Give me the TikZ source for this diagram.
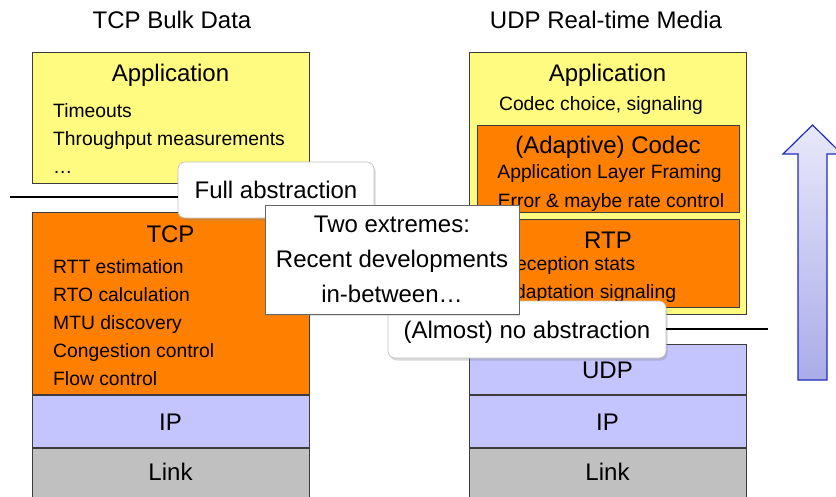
\documentclass[tikz,border=0pt]{standalone}
\usepackage{fontspec}
\setmainfont{Liberation Sans}
\usetikzlibrary{positioning,shadows}

\definecolor{appyellow}{RGB}{255,250,128}
\definecolor{tcporange}{RGB}{255,128,0}
\definecolor{ipblue}{RGB}{196,196,255}
\definecolor{linkgray}{RGB}{191,192,191}
\definecolor{edgegray}{RGB}{60,60,60}
\definecolor{arrowtop}{RGB}{232,232,250}
\definecolor{arrowbottom}{RGB}{170,172,232}
\definecolor{arrowedge}{RGB}{30,45,190}

\begin{document}
\begin{tikzpicture}[
  x=1pt, y=-1pt,
  layer/.style={rectangle, draw=edgegray, line width=0.8pt, inner sep=0pt, anchor=north west},
  big/.style={font=\fontsize{24}{28}\selectfont, inner sep=0pt, anchor=base},
  item/.style={font=\fontsize{19.3}{22}\selectfont, inner sep=0pt, anchor=base west},
  callout/.style={rectangle, rounded corners=7pt, draw=black!25, fill=white, line width=0.6pt, font=\fontsize{24}{28}\selectfont, text height=17pt, text depth=0pt, drop shadow={shadow xshift=1.5pt, shadow yshift=-2.5pt, opacity=0.3}},
  sep/.style={line width=2pt}
]
\useasboundingbox (0,0) rectangle (836,496);
\clip (0,0) rectangle (836,496);

% Column titles
\node[big] (tcp-head) at (172,28) {TCP Bulk Data};
\node[big] (udp-head) at (606,28) {UDP Real-time Media};

% Left stack - TCP bulk data
\node[layer, fill=appyellow, minimum width=277pt, minimum height=131pt] (tcp-app) at (32,52) {};
\node[layer, fill=tcporange, minimum width=277pt, minimum height=182pt] (tcp) at (32,212) {};
\node[layer, fill=ipblue, minimum width=277pt, minimum height=52pt, below=0pt of tcp] (tcp-ip) {};
\node[layer, fill=linkgray, minimum width=277pt, minimum height=60pt, below=0pt of tcp-ip] (tcp-link) {};

\node[big] (tcp-app-label) at (170.5,81) {Application};
\foreach \txt [count=\i] in {Timeouts, Throughput measurements, …}
  \node[item] (tcp-app-\i) at (53,{89+28*\i}) {\txt};
\node[big] (tcp-label) at (170.5,242) {TCP};
\foreach \txt [count=\i] in {RTT estimation, RTO calculation, MTU discovery, Congestion control, Flow control}
  \node[item] (tcp-item-\i) at (53,{245+28*\i}) {\txt};
\node[big] (tcp-ip-label) at (170.5,430) {IP};
\node[big] (tcp-link-label) at (170.5,480) {Link};

% Right stack - UDP real-time media
\node[layer, fill=appyellow, minimum width=277pt, minimum height=262pt] (udp-app) at (469,52) {};
\node[layer, fill=tcporange, minimum width=262pt, minimum height=87pt] (codec) at (477,125) {};
\node[layer, fill=tcporange, minimum width=262pt, minimum height=88pt] (rtp) at (477,219) {};
\node[layer, fill=ipblue, minimum width=277pt, minimum height=50pt] (udp) at (469,344) {};
\node[layer, fill=ipblue, minimum width=277pt, minimum height=52pt, below=0pt of udp] (udp-ip) {};
\node[layer, fill=linkgray, minimum width=277pt, minimum height=60pt, below=0pt of udp-ip] (udp-link) {};

\node[big] (udp-app-label) at (607.5,81) {Application};
\node[item, anchor=base] (udp-app-1) at (601,110) {Codec choice, signaling};
\node[big] (codec-label) at (608,153) {(Adaptive) Codec};
\node[item, anchor=base] (codec-1) at (609.5,178) {Application Layer Framing};
\node[item, anchor=base] (codec-2) at (611,207) {Error \& maybe rate control};
\node[big] (rtp-label) at (608,248) {RTP};
\node[item] (rtp-1) at (502,270) {Reception stats};
\node[item] (rtp-2) at (502,298) {Adaptation signaling};
\node[big] (udp-label) at (607.5,378) {UDP};
\node[big] (udp-ip-label) at (607.5,430) {IP};
\node[big] (udp-link-label) at (607.5,480) {Link};

% Abstraction callouts
\node[callout, minimum width=196pt, minimum height=56pt] (full) at (276,190) {Full abstraction};
\node[callout, minimum width=278pt, minimum height=57pt] (almost) at (527,329.5) {(Almost) no abstraction};

% Separator lines
\coordinate (cut-left) at (10,197);
\coordinate (cut-right) at (768,329);
\draw[sep] (cut-left) -- (cut-left -| full.west);
\draw[sep] (almost.east |- cut-right) -- (cut-right);

% Note box
\node[draw=black!60, fill=white, line width=0.6pt, align=center, font=\fontsize{24}{35}\selectfont, minimum width=254pt, minimum height=109pt, drop shadow={shadow xshift=1pt, shadow yshift=-1.5pt, opacity=0.25}] (extremes) at (392,259.5) {Two extremes:\\Recent developments\\in-between…};

% Upward arrow
\coordinate (arrow-tip) at (812.5,125);
\shade[top color=arrowtop, bottom color=arrowbottom, draw=arrowedge, line width=1.2pt] (798,380) -- (798,154) -- (783,154) -- (arrow-tip) -- (842,154) -- (827,154) -- (827,380) -- cycle;

\end{tikzpicture}
\end{document}
